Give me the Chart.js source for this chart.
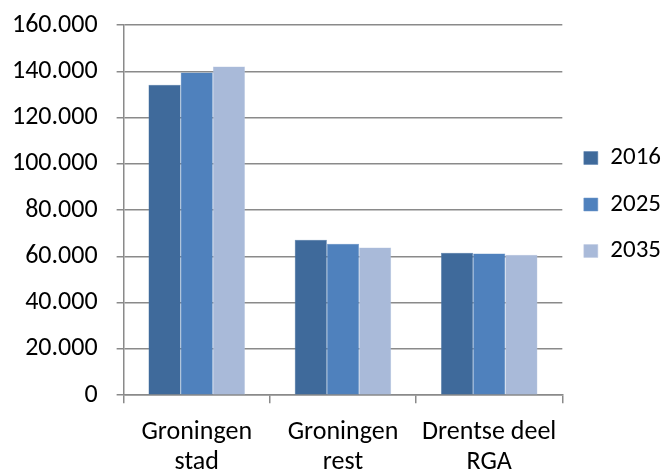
<!DOCTYPE html>
<html>
<head>
<meta charset="utf-8">
<script src="https://cdn.jsdelivr.net/npm/chart.js@4/dist/chart.umd.min.js"></script>
<style>
  html, body { margin: 0; padding: 0; background: #FFFFFF; overflow: hidden; }
  #wrap { position: relative; width: 666px; height: 470px; }
</style>
</head>
<body>
<div id="wrap"><canvas id="c" width="666" height="470"></canvas></div>
<script>
/* Inwoners per deelgebied, 2016 / 2025 / 2035 — clustered columns, Office-blue palette. */
const CATEGORIES = [['Groningen', 'stad'], ['Groningen', 'rest'], ['Drentse deel', 'RGA']];
const YEARS = ['2016', '2025', '2035'];
const V2016 = [134200, 67200, 61600];
const V2025 = [139500, 65500, 61200];
const V2035 = [142100, 63800, 60700];
const Y_TICKS = [0, 20000, 40000, 60000, 80000, 100000, 120000, 140000, 160000];

const COLORS = ['#3F6A9B', '#4F81BD', '#A9BAD9'];
const EDGES = ['#5A80AE', '#6D96C8', '#BFCBE3'];
const GRID = '#8A8A8A';
const INK = '#000000';
const FONT = "Carlito, Lato, 'Open Sans', sans-serif";
const FS = 26;

function fmtNL(v) {
  return new Intl.NumberFormat('nl-NL', { maximumFractionDigits: 0 }).format(v);
}

const series = [V2016, V2025, V2035];

new Chart(document.getElementById('c'), {
  type: 'bar',
  data: {
    labels: CATEGORIES,
    datasets: YEARS.map((y, i) => ({
      label: y,
      data: series[i],
      backgroundColor: COLORS[i],
      borderColor: EDGES[i],
      borderWidth: 0.5,
      barPercentage: 1,
      categoryPercentage: 0.66
    }))
  },
  options: {
    responsive: false,
    animation: false,
    devicePixelRatio: 1,
    layout: { padding: { left: -7, right: -5, top: 25, bottom: -21 } },
    plugins: {
      tooltip: { enabled: false },
      legend: {
        position: 'right',
        align: 'start',
        // empty title only pushes the key down beside the upper half of the plot
        title: { display: true, text: ' ', font: { size: 10 }, padding: { top: 87, bottom: 0 } },
        labels: {
          color: INK,
          font: { family: FONT, size: 25 },
          boxWidth: 14,
          boxHeight: 13,
          padding: 21.5
        }
      }
    },
    scales: {
      x: {
        grid: { display: true, drawOnChartArea: false, offset: true, color: GRID, lineWidth: 1.5, tickLength: 8 },
        border: { display: true, color: GRID, width: 1.5 },
        ticks: { color: INK, font: { family: FONT, size: FS, lineHeight: 1.15 }, padding: 14, maxRotation: 0 }
      },
      y: {
        min: 0,
        max: 160000,
        afterBuildTicks: axis => { axis.ticks = Y_TICKS.map(v => ({ value: v })); },
        // the wide label gap should not also push the plot down from the top
        afterFit: axis => { axis.paddingTop = 0; axis.paddingBottom = 0; },
        grid: { color: GRID, lineWidth: 1.5, tickLength: 7 },
        border: { display: true, color: GRID, width: 1.5 },
        ticks: { color: INK, font: { family: FONT, size: FS }, padding: 19, callback: v => fmtNL(v) }
      }
    }
  }
});
</script>
</body>
</html>
